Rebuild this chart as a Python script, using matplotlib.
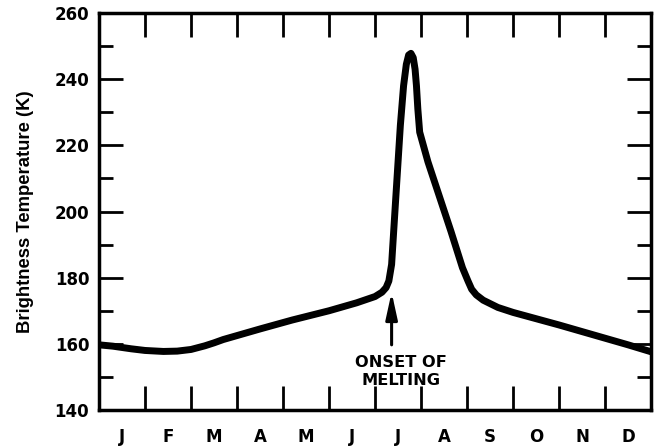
import matplotlib
matplotlib.use("Agg")
import matplotlib.pyplot as plt
from matplotlib.ticker import MultipleLocator

# Data (month position, brightness temperature K)
month_pos = [0.0, 0.3, 0.7, 1.0, 1.4, 1.7, 2.0, 2.3, 2.5, 2.7, 3.0, 3.5, 4.2, 5.0, 5.6,
             6.0, 6.15, 6.24, 6.3, 6.36, 6.45, 6.55, 6.62, 6.68, 6.73, 6.78, 6.83,
             6.87, 6.9, 6.93, 6.97, 7.15, 7.65, 7.9, 8.02, 8.1, 8.2, 8.35, 8.67,
             9.0, 10.0, 11.0, 11.5, 12.0]
temp_k = [159.7, 159.3, 158.5, 158.0, 157.7, 157.8, 158.3, 159.4, 160.3, 161.3, 162.5,
          164.5, 167.2, 170.0, 172.4, 174.3, 175.6, 177.0, 179.0, 184.0, 204.0, 226.0,
          238.0, 244.5, 247.3, 247.8, 246.5, 243.0, 238.0, 231.0, 224.0, 215.0, 194.0,
          183.0, 179.0, 176.5, 174.8, 173.2, 171.0, 169.5, 165.7, 161.7, 159.7, 157.6]
month_labels = ["J", "F", "M", "A", "M", "J", "J", "A", "S", "O", "N", "D"]
y_ticks = [140, 160, 180, 200, 220, 240, 260]

arrow_tip = (6.36, 175.6)
arrow_tail = (6.36, 159.7)
annotation_text = "ONSET OF\nMELTING"

plt.rcParams['font.family'] = ['DejaVu Sans']

fig = plt.figure(figsize=(6.57, 4.48), dpi=100)
ax = fig.add_axes([0.1507, 0.0848, 0.8403, 0.8862])

ax.plot(month_pos, temp_k, color='black', lw=5.0, solid_joinstyle='round',
        solid_capstyle='butt')

ax.set_xlim(0, 12)
ax.set_ylim(140, 260)

ax.set_yticks(y_ticks)
ax.set_yticklabels([str(v) for v in y_ticks], fontsize=12, fontweight='bold')
ax.yaxis.set_minor_locator(MultipleLocator(10))

ax.set_xticks(range(0, 13))
ax.set_xticklabels([])
ax.set_xticks([i + 0.5 for i in range(12)], minor=True)
ax.set_xticklabels(month_labels, minor=True, fontsize=12, fontweight='bold')

ax.tick_params(axis='y', which='major', direction='in', length=17, width=2,
               left=True, right=True, pad=7)
ax.tick_params(axis='y', which='minor', direction='in', length=10, width=2,
               left=True, right=True)
ax.tick_params(axis='x', which='major', direction='in', length=17, width=2,
               bottom=True, top=True)
ax.tick_params(axis='x', which='minor', length=0, pad=13)

for s in ax.spines.values():
    s.set_linewidth(2.5)

ax.set_ylabel("Brightness Temperature (K)", fontsize=13.3, fontweight='bold',
              family=['Liberation Sans', 'DejaVu Sans'], labelpad=15)

ax.annotate("", xy=arrow_tip, xytext=arrow_tail,
            arrowprops=dict(arrowstyle='-|>,head_length=1.6,head_width=0.35',
                        color='black', lw=2.2, shrinkA=0, shrinkB=0))
ax.text(6.56, 156.7, annotation_text, ha='center', va='top', fontsize=11.7,
        fontweight='bold', linespacing=1.3)

fig.savefig("out.png", dpi=100)
